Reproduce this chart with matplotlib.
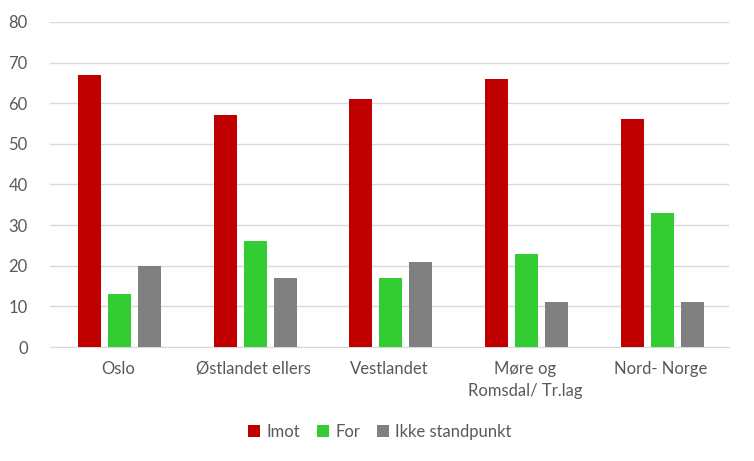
import matplotlib.pyplot as plt
import numpy as np

categories = ["Oslo", "Østlandet ellers", "Vestlandet", "Møre og\nRomsdal/ Tr.lag", "Nord- Norge"]
imot = [67, 57, 61, 66, 56]
for_ = [13, 26, 17, 23, 33]
ikke = [20, 17, 21, 11, 11]
series_names = ["Imot", "For", "Ikke standpunkt"]
colors = ["#C00000", "#33CC33", "#808080"]

plt.rcParams['font.family'] = ['Lato', 'DejaVu Sans']

fig = plt.figure(figsize=(7.54, 4.61), dpi=100)
ax = fig.add_axes([50 / 754, 114 / 461, 679 / 754, 325 / 461])

x = np.arange(len(categories))
width = 0.17
step = 0.221
for i, (vals, name, col) in enumerate(zip([imot, for_, ikke], series_names, colors)):
    ax.bar(x + (i - 1) * step + 0.01, vals, width, color=col, label=name, zorder=3)

ax.set_xlim(-0.5, len(categories) - 0.5)
ax.set_ylim(0, 80)
ax.set_yticks(range(0, 81, 10))
ax.yaxis.grid(True, color="#D9D9D9", linewidth=1, zorder=0)
for s in ["top", "right", "left"]:
    ax.spines[s].set_visible(False)
ax.spines["bottom"].set_color("#D9D9D9")
ax.tick_params(axis="both", length=0, colors="#595959", labelsize=12)
ax.tick_params(axis="y", pad=16)
ax.tick_params(axis="x", pad=10)
ax.set_xticks(x)
ax.set_xticklabels(categories, linespacing=1.5)

fig.legend(loc="center", bbox_to_anchor=(380 / 754, 1 - 432 / 461), ncol=3, frameon=False,
           fontsize=12, handlelength=0.7, handleheight=0.7, handletextpad=0.4, columnspacing=1.0,
           labelcolor="#595959")

plt.savefig("out.png", dpi=100)
